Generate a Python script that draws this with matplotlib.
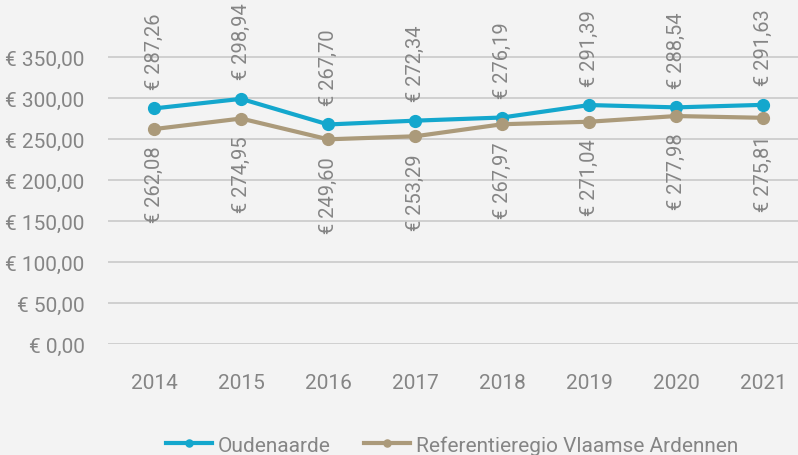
import matplotlib.pyplot as plt

years = ['2014', '2015', '2016', '2017', '2018', '2019', '2020', '2021']
oudenaarde = [287.26, 298.94, 267.70, 272.34, 276.19, 291.39, 288.54, 291.63]
referentie = [262.08, 274.95, 249.60, 253.29, 267.97, 271.04, 277.98, 275.81]
yticks = [0, 50, 100, 150, 200, 250, 300, 350]

BLUE = '#14a7cd'
TAN = '#ab9a7a'
GREY = '#858585'
BG = '#f3f3f3'

plt.rcParams['font.family'] = ['Roboto', 'DejaVu Sans']


def euro(v):
    return '€ ' + f'{v:,.2f}'.replace(',', ' ').replace('.', ',')


fig = plt.figure(figsize=(7.98, 4.56), dpi=100, facecolor=BG)
ax = fig.add_axes([108/798, 1 - 345/456, 690/798, 345/456])
ax.set_facecolor(BG)

x = list(range(len(years)))
ax.plot(x, oudenaarde, color=BLUE, lw=3, marker='o', ms=8.5, label='Oudenaarde', zorder=3)
ax.plot(x, referentie, color=TAN, lw=3, marker='o', ms=8.5,
        label='Referentieregio Vlaamse Ardennen', zorder=3)

for i, v in enumerate(oudenaarde):
    ax.annotate(euro(v), (i, v), xytext=(0, 14), textcoords='offset points',
                rotation=90, ha='center', va='bottom', fontsize=14.5, color=GREY)
for i, v in enumerate(referentie):
    ax.annotate(euro(v), (i, v), xytext=(0, -12), textcoords='offset points',
                rotation=90, ha='center', va='top', fontsize=14.5, color=GREY)

ax.set_xlim(-0.53, 7.40)
ax.set_ylim(0, 420.7)
ax.set_yticks(yticks)
ax.set_yticklabels([euro(v) for v in yticks])
ax.set_xticks(x)
ax.set_xticklabels(years)
ax.tick_params(length=0, labelsize=15, colors=GREY)
ax.tick_params(axis='y', pad=17)
ax.tick_params(axis='x', pad=21)
ax.grid(axis='y', color='#c9c9c9', lw=1.2)
ax.set_axisbelow(True)
for s in ax.spines.values():
    s.set_visible(False)

fig.legend(loc='center', bbox_to_anchor=(452/798, 1 - 446/456), ncol=2, frameon=False,
           fontsize=15, labelcolor=GREY, handlelength=2.2, columnspacing=1.6,
           handletextpad=0.3, markerscale=0.6)

fig.savefig('out.png', dpi=100, facecolor=BG)
